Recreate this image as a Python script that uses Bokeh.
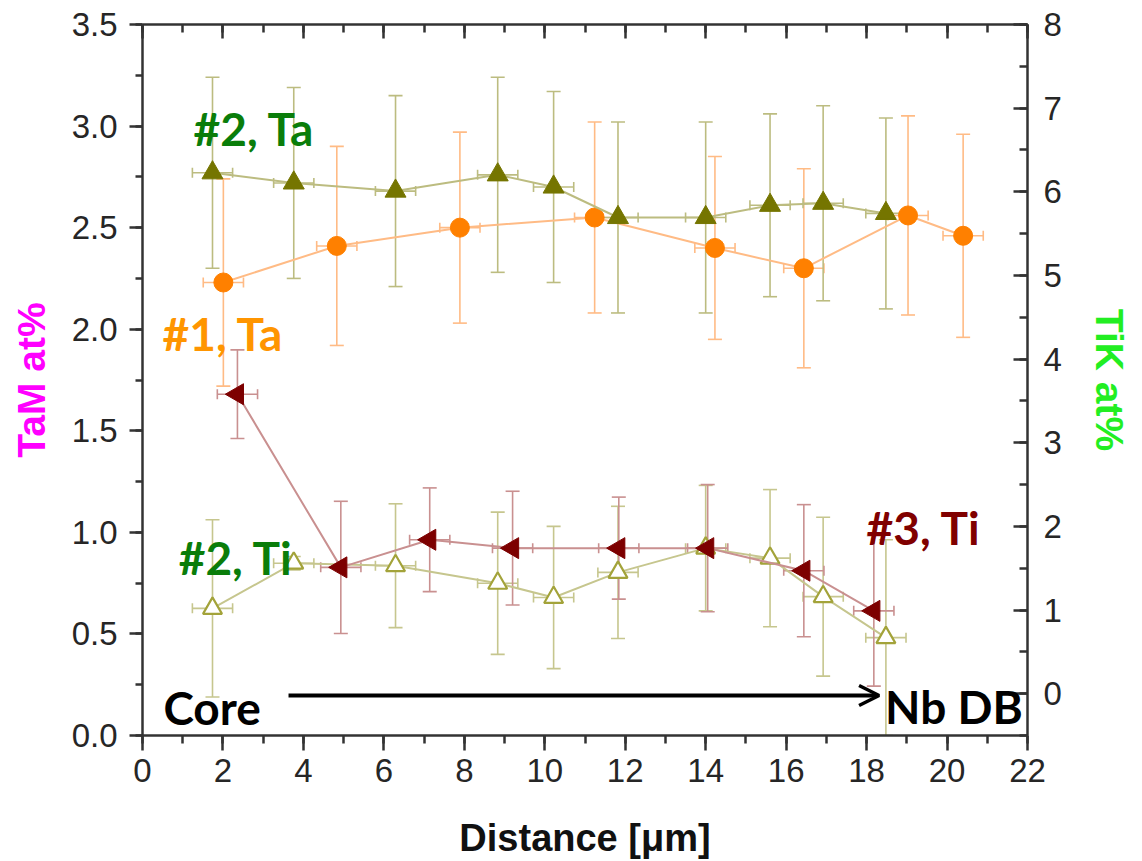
from bokeh.plotting import figure
from bokeh.models import (Range1d, LinearAxis, SingleIntervalTicker, ColumnDataSource,
                          Whisker, TeeHead, Arrow, OpenHead, Label,
                          CustomJSTickFormatter, NumeralTickFormatter)
from bokeh.embed import file_html
from bokeh.resources import INLINE

# ---- data -------------------------------------------------------------
# sample #2: Ta (left axis) and Ti (right axis) measured at the same spots
dist_s2 = [1.74, 3.76, 6.29, 8.83, 10.22, 11.82, 14.00, 15.60, 16.92, 18.48]
ta_s2 = [2.77, 2.72, 2.68, 2.76, 2.70, 2.55, 2.55, 2.61, 2.62, 2.57]
ta_s2_err = [0.47, 0.47, 0.47, 0.48, 0.47, 0.47, 0.47, 0.45, 0.48, 0.47]
ti_s2 = [1.02, 1.56, 1.53, 1.32, 1.15, 1.45, 1.74, 1.62, 1.16, 0.67]
ti_s2_err = [1.06, 0.08, 0.74, 0.85, 0.85, 0.79, 0.75, 0.82, 0.95, 1.17]

# sample #1: Ta (left axis)
dist_s1 = [2.01, 4.83, 7.89, 11.24, 14.23, 16.44, 19.03, 20.40]
ta_s1 = [2.23, 2.41, 2.50, 2.55, 2.40, 2.30, 2.56, 2.46]
ta_s1_err = [0.51, 0.49, 0.47, 0.47, 0.45, 0.49, 0.49, 0.50]

# sample #3: Ti (right axis)
dist_s3 = [2.36, 4.93, 7.14, 9.20, 11.84, 14.05, 16.44, 18.18]
ti_s3 = [3.58, 1.51, 1.84, 1.74, 1.74, 1.74, 1.47, 0.99]
ti_s3_err = [0.53, 0.79, 0.62, 0.68, 0.61, 0.76, 0.79, 0.90]

# lateral uncertainty of every spot position (µm)
dist_err = 0.5

TICK_FONT = "Liberation Sans"
LABEL_FONT = "Lato"

p = figure(width=1142, height=861,
           x_range=Range1d(0, 22), y_range=Range1d(0, 3.5),
           output_backend="svg", toolbar_location=None,
           min_border_left=142, min_border_right=115,
           min_border_top=24, min_border_bottom=126,
           background_fill_color="white", border_fill_color="white")
p.extra_y_ranges = {"tik": Range1d(-0.5, 8)}
p.outline_line_color = None
p.xgrid.visible = False
p.ygrid.visible = False

AXIS_COLOR = "#333333"


def style_axis(ax, tick_out, tick_in, minor_out, minor_in):
    ax.axis_line_color = AXIS_COLOR
    ax.axis_line_width = 2.5
    ax.major_tick_line_color = AXIS_COLOR
    ax.minor_tick_line_color = AXIS_COLOR
    ax.major_tick_line_width = 2.5
    ax.minor_tick_line_width = 2.5
    ax.major_tick_out = tick_out
    ax.major_tick_in = tick_in
    ax.minor_tick_out = minor_out
    ax.minor_tick_in = minor_in
    ax.major_label_text_font = TICK_FONT
    ax.major_label_text_font_size = "33px"
    ax.major_label_text_color = "#262626"


# bottom axis
xa = p.xaxis[0]
xa.ticker = SingleIntervalTicker(interval=2, num_minor_ticks=2)
style_axis(xa, 15, 0, 8, 0)
xa.major_label_standoff = 8
xa.axis_label = "Distance [μm]"
xa.axis_label_text_font = TICK_FONT
xa.axis_label_text_font_style = "bold"
xa.axis_label_text_font_size = "38px"
xa.axis_label_text_color = "#111111"
xa.axis_label_standoff = 32

# left axis (Ta)
ya = p.yaxis[0]
ya.ticker = SingleIntervalTicker(interval=0.5, num_minor_ticks=2)
ya.formatter = NumeralTickFormatter(format="0.0")
style_axis(ya, 13, 0, 7, 0)
ya.major_label_standoff = 12
ya.axis_label = "TaM at%"
ya.axis_label_text_font = TICK_FONT
ya.axis_label_text_font_style = "bold"
ya.axis_label_text_font_size = "39px"
ya.axis_label_text_color = "#ff00ff"
ya.axis_label_standoff = 16

# right axis (Ti)
ra = LinearAxis(y_range_name="tik",
                ticker=SingleIntervalTicker(interval=1, num_minor_ticks=2))
style_axis(ra, 0, 14, 0, 8)
ra.major_label_standoff = 16
ra.axis_label = "TiK at%"
ra.axis_label_text_font = TICK_FONT
ra.axis_label_text_font_style = "bold"
ra.axis_label_text_font_size = "39px"
ra.axis_label_text_color = "#22ee22"
ra.axis_label_standoff = 23
p.add_layout(ra, "right")

# top frame edge with inward ticks, no labels
ta = LinearAxis(ticker=SingleIntervalTicker(interval=2, num_minor_ticks=2),
                formatter=CustomJSTickFormatter(code="return ''"))
style_axis(ta, 0, 14, 0, 8)
ta.major_label_text_font_size = "1px"
ta.major_label_standoff = 0
p.add_layout(ta, "above")


def series(xs, ys, errs, marker_kw, line_color, range_name="default"):
    src = ColumnDataSource(dict(
        x=xs, y=ys,
        lo=[v - e for v, e in zip(ys, errs)],
        hi=[v + e for v, e in zip(ys, errs)],
        xlo=[v - dist_err for v in xs],
        xhi=[v + dist_err for v in xs],
    ))
    vw = Whisker(source=src, base="x", lower="lo", upper="hi", dimension="height",
                 line_color=line_color, line_width=1.6, level="underlay",
                 upper_head=TeeHead(size=14, line_color=line_color, line_width=1.6),
                 lower_head=TeeHead(size=14, line_color=line_color, line_width=1.6),
                 y_range_name=range_name)
    hw = Whisker(source=src, base="y", lower="xlo", upper="xhi", dimension="width",
                 line_color=line_color, line_width=1.6, level="underlay",
                 upper_head=TeeHead(size=10, line_color=line_color, line_width=1.6),
                 lower_head=TeeHead(size=10, line_color=line_color, line_width=1.6),
                 y_range_name=range_name)
    p.add_layout(vw)
    p.add_layout(hw)
    p.line("x", "y", source=src, line_color=line_color, line_width=2,
           y_range_name=range_name)
    p.scatter("x", "y", source=src, y_range_name=range_name, **marker_kw)


# #1 Ta : orange circles
series(dist_s1, ta_s1, ta_s1_err,
       dict(marker="circle", size=19, fill_color="#ff8000", line_color="#ff8000"),
       "#ffbb85")
# #2 Ta : olive filled triangles
series(dist_s2, ta_s2, ta_s2_err,
       dict(marker="triangle", size=21, fill_color="#757500", line_color="#757500"),
       "#bcbc80")
# #2 Ti : olive open triangles
series(dist_s2, ti_s2, ti_s2_err,
       dict(marker="triangle", size=19, fill_color="white", line_color="#a3a33a",
            line_width=2.2),
       "#c6c68e", "tik")
# #3 Ti : dark red left-pointing triangles
series(dist_s3, ti_s3, ti_s3_err,
       dict(marker="triangle", size=21, angle=90, angle_units="deg",
            fill_color="#7d0000", line_color="#7d0000"),
       "#c99090", "tik")

# series tags
tags = [
    ("#2, Ta", 1.27, 2.99, "#0a7d0a"),
    ("#1, Ta", 0.50, 1.98, "#ff9500"),
    ("#2, Ti", 0.90, 0.876, "#0a7d0a"),
    ("#3, Ti", 18.0, 1.024, "#800000"),
    ("Core", 0.52, 0.138, "#000000"),
    ("Nb DB", 18.46, 0.143, "#000000"),
]
for txt, tx, ty, col in tags:
    p.add_layout(Label(x=tx, y=ty, text=txt, text_font=LABEL_FONT,
                       text_font_style="bold", text_font_size="46px",
                       text_color=col, text_align="left",
                       text_baseline="alphabetic"))

# Core -> diffusion barrier direction arrow
p.add_layout(Arrow(end=OpenHead(size=20, line_width=3.5, line_color="black"),
                   x_start=3.63, y_start=0.197, x_end=18.31, y_end=0.197,
                   line_width=4, line_color="black"))

open("out.html", "w").write(file_html(p, INLINE))
